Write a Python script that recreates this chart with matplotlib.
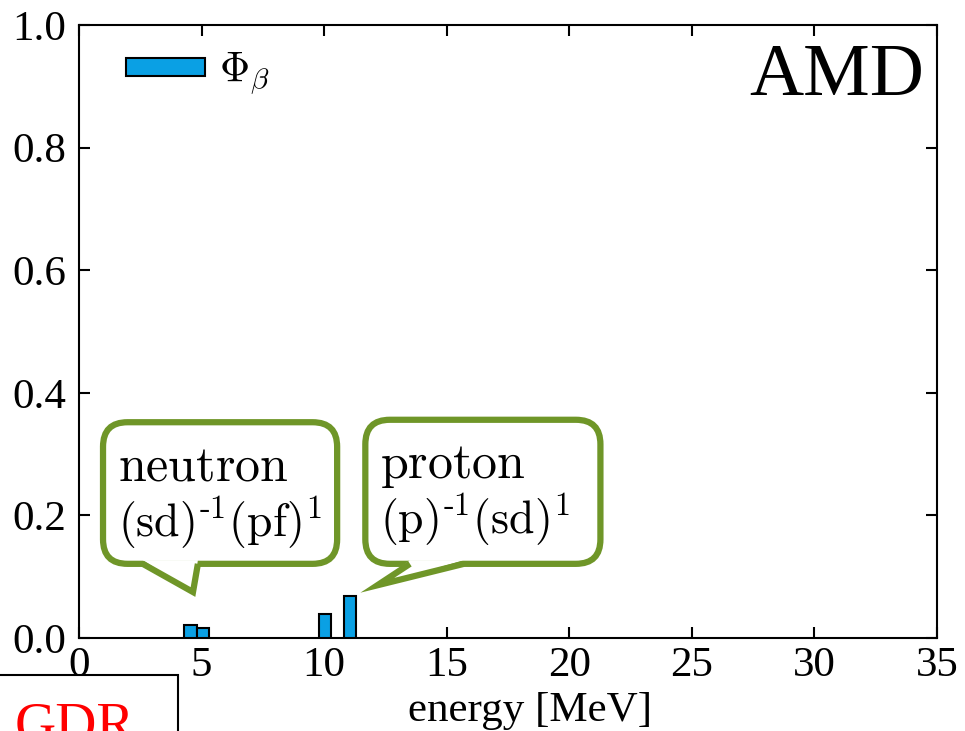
import numpy as np
import matplotlib
matplotlib.use("Agg")
import matplotlib.pyplot as plt
from matplotlib.patches import FancyBboxPatch, Polygon, Rectangle

plt.rcParams['font.family'] = ['Liberation Serif', 'DejaVu Serif']
plt.rcParams['mathtext.fontset'] = 'cm'

# bar data: energy bin centres [MeV] and strength
energy = [4.55, 5.05, 10.05, 11.05]
phi_beta = [0.021, 0.016, 0.039, 0.068]
bin_width = 0.5

xticks = [0, 5, 10, 15, 20, 25, 30, 35]
yticks = [0.0, 0.2, 0.4, 0.6, 0.8, 1.0]
ytick_labels = ['0.0', '0.2', '0.4', '0.6', '0.8', '1.0']

bar_color = '#0aa0e4'
green = '#6f9628'

fig = plt.figure(figsize=(9.65, 7.31), dpi=100)
ax = fig.add_axes([79 / 965, 93 / 731, 858 / 965, 613 / 731])

ax.bar(energy, phi_beta, width=bin_width, color=bar_color, edgecolor='black',
       linewidth=1.5, label=r'$\Phi_\beta$', zorder=3)

ax.set_xlim(0, 35)
ax.set_ylim(0, 1.0)
ax.set_xticks(xticks)
ax.set_yticks(yticks)
ax.set_yticklabels(ytick_labels)
ax.tick_params(direction='in', length=8, width=1.5, top=True, right=True,
               labelsize=31, pad=6)
ax.tick_params(axis='y', pad=9)
for s in ax.spines.values():
    s.set_linewidth(1.5)

ax.set_xlabel('energy [MeV]', fontsize=31)
ax.xaxis.set_label_coords(0.526, -0.087)

leg = ax.legend(loc='upper left', bbox_to_anchor=(0.035, 0.985), frameon=False,
                fontsize=30, handlelength=1.9, handleheight=0.26,
                handletextpad=0.35, borderaxespad=0)

ax.text(0.985, 0.885, 'AMD', transform=ax.transAxes, ha='right',
        va='baseline', fontsize=54)

# speech bubbles (data coords, rounded corners corrected for aspect)
aspect = (1 / 613) / (35 / 858)


def bubble(x0, x1, y0, y1, tail, lines):
    box = FancyBboxPatch((x0, y0), x1 - x0, y1 - y0,
                         boxstyle='round,pad=0,rounding_size=1.0',
                         mutation_aspect=aspect, facecolor='white',
                         edgecolor=green, linewidth=4.5, zorder=4,
                         clip_on=False)
    ax.add_patch(box)
    (bx0, tx, ty, bx1) = tail
    cover = Polygon([(bx0, y0 + 0.006), (tx, ty), (bx1, y0 + 0.006)],
                    closed=True, facecolor='white', edgecolor='none',
                    zorder=5)
    ax.add_patch(cover)
    ax.plot([bx0, tx, bx1], [y0, ty, y0], color=green, linewidth=4.5,
            solid_joinstyle='miter', solid_capstyle='butt', zorder=6)
    ax.text(x0 + 0.6, y1 - 0.095, lines[0], fontsize=36, zorder=7)
    ax.text(x0 + 0.6, y1 - 0.187, lines[1], fontsize=33, zorder=7)


bubble(0.98, 10.53, 0.121, 0.352, (2.6, 4.65, 0.075, 4.85),
       [r'$\mathrm{neutron}$', r'$\mathrm{(sd)^{\text{-}1}(pf)^{1}}$'])
bubble(11.68, 21.27, 0.121, 0.356, (13.5, 12.17, 0.086, 15.7),
       [r'$\mathrm{proton}$', r'$\mathrm{(p)^{\text{-}1}(sd)^{1}}$'])

# neighbouring panel fragment (bottom left)
fig.patches.append(Rectangle((-0.01, -0.1), 178 / 965 + 0.01, (731 - 675) / 731 + 0.1,
                             transform=fig.transFigure, facecolor='white',
                             edgecolor='black', linewidth=1.5))
fig.text(15 / 965, -10 / 731, 'GDR', color='red', fontsize=41,
         ha='left', va='baseline')

fig.savefig('out.png', dpi=100)
